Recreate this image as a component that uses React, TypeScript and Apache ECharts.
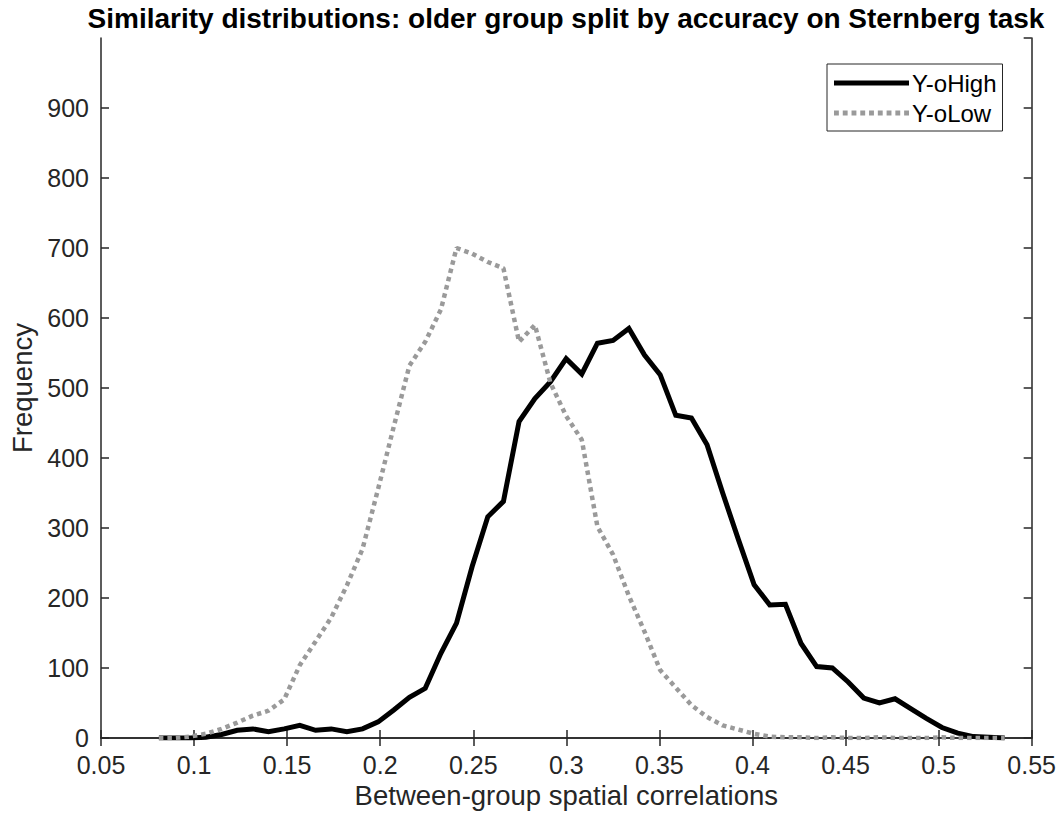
import React, { useEffect, useRef } from "react";
import * as echarts from "echarts";

// Histogram bin centres (between-group spatial correlation)
const binCenters = [
  0.0811, 0.0895, 0.0979, 0.1063, 0.1148, 0.1232, 0.1316, 0.14, 0.1484, 0.1568,
  0.1653, 0.1737, 0.1821, 0.1905, 0.1989, 0.2073, 0.2157, 0.2242, 0.2326, 0.241,
  0.2494, 0.2578, 0.2662, 0.2746, 0.2831, 0.2915, 0.2999, 0.3083, 0.3167, 0.3251,
  0.3336, 0.342, 0.3504, 0.3588, 0.3672, 0.3756, 0.384, 0.3925, 0.4009, 0.4093,
  0.4177, 0.4261, 0.4345, 0.4429, 0.4514, 0.4598, 0.4682, 0.4766, 0.485, 0.4934,
  0.5018, 0.5103, 0.5187, 0.5271, 0.5355,
];

// Frequencies per bin, high-accuracy older group
const yoHigh = [
  0, 0, 0, 1, 5, 11, 13, 9, 13, 18,
  11, 13, 9, 13, 23, 40, 58, 71, 121, 164,
  245, 316, 338, 452, 485, 509, 542, 520, 564, 568,
  585, 547, 519, 461, 457, 419, 350, 283, 219, 190,
  191, 135, 102, 100, 80, 57, 50, 56, 42, 28,
  15, 7, 2, 1, 0,
];

// Frequencies per bin, low-accuracy older group
const yoLow = [
  0, 0, 2, 6, 13, 22, 32, 39, 55, 104,
  138, 172, 218, 270, 356, 445, 532, 566, 612, 700,
  692, 680, 671, 566, 590, 507, 460, 426, 302, 262,
  203, 152, 97, 72, 47, 30, 18, 12, 6, 2,
  1, 1, 0, 1, 0, 0, 1, 0, 0, 0,
  1, 0, 0, 0, 0,
];

const seriesNames = ["Y-oHigh", "Y-oLow"];
const titleText = "Similarity distributions: older group split by accuracy on Sternberg task";
const xAxisTitle = "Between-group spatial correlations";
const yAxisTitle = "Frequency";

const FONT = "'Liberation Sans', Arial, Helvetica, sans-serif";
const INK = "#262626";
const HIGH_COLOR = "#000000";
const LOW_COLOR = "#9a9a9a";

// Legend glyphs: a solid bar, and a row of square dots for the dotted series
const solidIcon = "path://M0,0H75V5H0Z";
const dottedIcon =
  "path://M0,0h5v5h-5zM9,0h5v5h-5zM18,0h5v5h-5zM27,0h5v5h-5zM36,0h5v5h-5zM45,0h5v5h-5zM54,0h5v5h-5zM63,0h5v5h-5zM72,0h5v5h-5z";

export default function App() {
  const ref = useRef<HTMLDivElement>(null);

  useEffect(() => {
    if (!ref.current) return;
    const chart = echarts.init(ref.current, undefined, { renderer: "svg" });

    const tickAxisCommon = {
      axisLine: { show: true, lineStyle: { color: INK, width: 1.5 } },
      axisTick: { show: true, inside: true, length: 8, lineStyle: { color: INK, width: 1.5 } },
      splitLine: { show: false },
    };

    chart.setOption({
      animation: false,
      backgroundColor: "#ffffff",
      textStyle: { fontFamily: FONT },
      grid: { left: 101, right: 27, top: 38, bottom: 80, containLabel: false },
      graphic: [
        {
          type: "text",
          x: 566,
          y: 18,
          style: {
            text: titleText,
            font: `bold 28px 'Liberation Sans', Arial, sans-serif`,
            fill: "#000000",
            align: "center",
            verticalAlign: "middle",
            textAlign: "center",
            textVerticalAlign: "middle",
          },
        },
      ],
      legend: {
        orient: "vertical",
        left: 827,
        top: 64,
        data: [
          { name: seriesNames[0], icon: solidIcon },
          { name: seriesNames[1], icon: dottedIcon },
        ],
        itemWidth: 75,
        itemHeight: 5,
        itemGap: 6,
        padding: [7, 6, 6, 7],
        borderColor: INK,
        borderWidth: 1,
        backgroundColor: "#ffffff",
        textStyle: { fontFamily: FONT, fontSize: 24, color: "#000000", padding: [0, 0, 0, -2] },
      },
      xAxis: [
        {
          type: "value",
          min: 0.05,
          max: 0.55,
          interval: 0.05,
          position: "bottom",
          name: xAxisTitle,
          nameLocation: "middle",
          nameGap: 43,
          nameTextStyle: { fontFamily: FONT, fontSize: 27.5, color: INK },
          axisLabel: {
            fontFamily: FONT,
            fontSize: 25,
            color: INK,
            margin: 14,
            formatter: (v: number) => String(parseFloat(v.toFixed(2))),
          },
          ...tickAxisCommon,
        },
        {
          type: "value",
          min: 0.05,
          max: 0.55,
          interval: 0.05,
          position: "top",
          axisLabel: { show: false },
          ...tickAxisCommon,
        },
      ],
      yAxis: [
        {
          type: "value",
          min: 0,
          max: 1000,
          interval: 100,
          position: "left",
          name: yAxisTitle,
          nameLocation: "middle",
          nameGap: 62,
          nameTextStyle: { fontFamily: FONT, fontSize: 27.5, color: INK },
          axisLabel: {
            fontFamily: FONT,
            fontSize: 25,
            color: INK,
            margin: 12,
            showMaxLabel: false,
          },
          ...tickAxisCommon,
        },
        {
          type: "value",
          min: 0,
          max: 1000,
          interval: 100,
          position: "right",
          axisLabel: { show: false },
          ...tickAxisCommon,
        },
      ],
      series: [
        {
          name: seriesNames[0],
          type: "line",
          xAxisIndex: 0,
          yAxisIndex: 0,
          data: binCenters.map((x, i) => [x, yoHigh[i]]),
          symbol: "none",
          showSymbol: false,
          color: HIGH_COLOR,
          lineStyle: { color: HIGH_COLOR, width: 5, join: "miter" },
        },
        {
          name: seriesNames[1],
          type: "line",
          xAxisIndex: 0,
          yAxisIndex: 0,
          data: binCenters.map((x, i) => [x, yoLow[i]]),
          symbol: "none",
          showSymbol: false,
          color: LOW_COLOR,
          lineStyle: { color: LOW_COLOR, width: 4.5, type: [4.5, 4], cap: "butt" },
        },
      ],
    });

    return () => chart.dispose();
  }, []);

  return (
    <div
      ref={ref}
      style={{ position: "absolute", left: 0, top: 0, width: 1059, height: 818, background: "#fff" }}
    />
  );
}
